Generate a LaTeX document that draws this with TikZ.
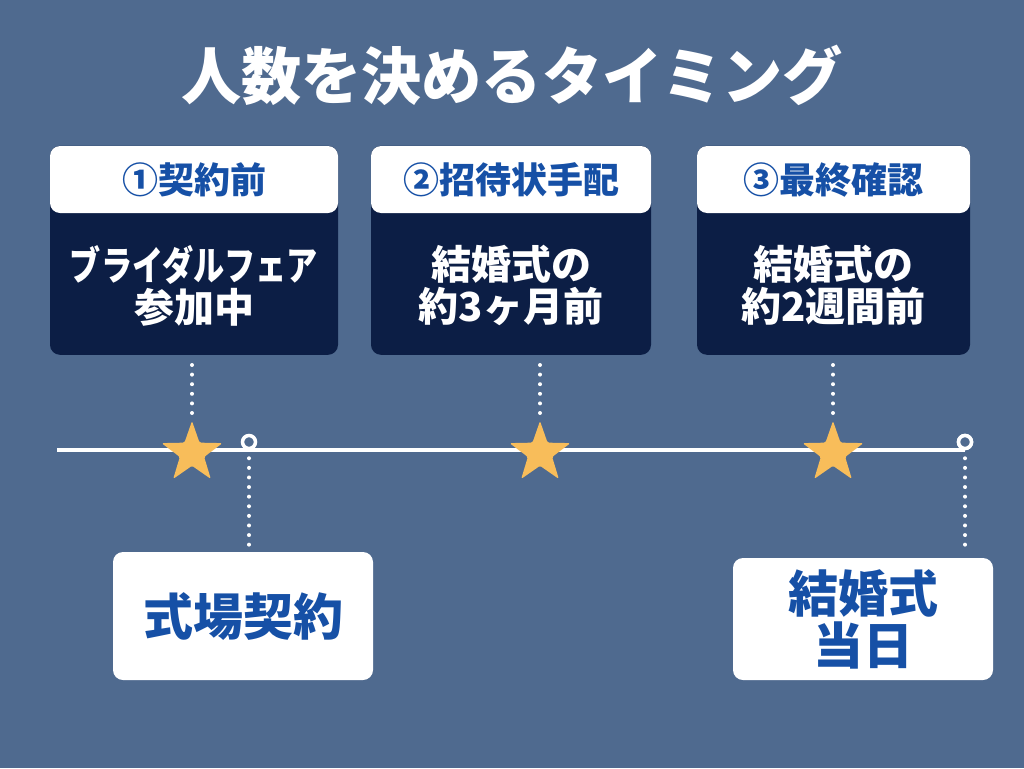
\documentclass[tikz,border=0pt]{standalone}
\usepackage{fontspec}
\newfontfamily\jp{Noto Sans CJK JP}
\usetikzlibrary{shapes.geometric}
\definecolor{bg}{HTML}{4F6A8F}
\definecolor{navy}{HTML}{0C1E45}
\definecolor{jblue}{HTML}{1650A6}
\definecolor{stary}{HTML}{F8BD5A}
\begin{document}
\begin{tikzpicture}[x=1pt,y=-1pt,font=\jp\bfseries,
  card/.style={fill=navy,rounded corners=10pt,minimum width=#1,minimum height=209pt,anchor=south,inner sep=0pt},
  head/.style={fill=white,rounded corners=10pt,minimum width=#1,minimum height=67pt,inner sep=0pt,text=jblue,font=\jp\bfseries\fontsize{36}{40}\selectfont},
  body/.style={text=white,align=center,inner sep=0pt,font=\jp\bfseries\fontsize{40}{42}\selectfont},
  lowbox/.style={fill=white,rounded corners=10pt,minimum width=260pt,inner sep=0pt,text=jblue,align=center,font=\jp\bfseries\fontsize{50}{52}\selectfont},
  starnode/.style={star,star points=5,star point ratio=2.5,fill=stary,minimum size=64pt,inner sep=0pt,rounded corners=1.5pt},
  ring/.style={circle,draw=white,line width=3.5pt,fill=bg,minimum size=13pt,inner sep=0pt},
  dots/.style={white,line width=4pt,line cap=round,dash pattern=on 0pt off 9.6pt},
  tline/.style={white,line width=4pt}]
\fill[bg] (0,0) rectangle (1024,768);
\useasboundingbox (0,0) rectangle (1024,768);

\node[white,font=\jp\bfseries\fontsize{62}{70}\selectfont] (title) at (512,75) {\scalebox{0.97}[1]{人数を決めるタイミング}};

% cards
\node[card=288pt] (c1) at (194,355) {};
\node[card=280pt] (c2) at (511,355) {};
\node[card=273pt] (c3) at (833.5,355) {};
\node[head=288pt] (h1) at (194,179.5) {①契約前};
\node[head=280pt] (h2) at (511,179.5) {②招待状手配};
\node[head=273pt] (h3) at (833.5,179.5) {③最終確認};
\node[body] (t1) at (194,286) {\scalebox{0.78}[1]{ブライダルフェア}\\参加中};
\node[body] (t2) at (511,285) {結婚式の\\約3ヶ月前};
\node[body] (t3) at (833.5,285) {結婚式の\\約2週間前};

% timeline
\coordinate (L) at (57,450);
\node[ring] (o2) at (965,442) {};
\draw[tline] (L) -- (L -| o2);
\node[ring] (o1) at (249,442) {};
\node[ring] (o2b) at (965,442) {};

% stars
\node[starnode] (s1) at (192,453) {};
\node[starnode] (s2) at (540,453) {};
\node[starnode] (s3) at (833,453) {};

% lower boxes
\node[lowbox,minimum height=128pt] (k1) at (243,616) {式場契約};
\node[lowbox,minimum height=122pt] (k2) at (863,619) {結婚式\\当日};

% dotted connectors
\draw[dots] ([yshift=-10pt]c1.south -| s1) -- ([yshift=4pt]s1.north);
\draw[dots] ([yshift=-10pt]c2.south -| s2) -- ([yshift=4pt]s2.north);
\draw[dots] ([yshift=-10pt]c3.south -| s3) -- ([yshift=4pt]s3.north);
\draw[dots] ([yshift=-8pt]o1.south) -- ([yshift=6pt]k1.north -| o1);
\draw[dots] ([yshift=-8pt]o2b.south) -- ([yshift=6pt]k2.north -| o2b);
\end{tikzpicture}
\end{document}
